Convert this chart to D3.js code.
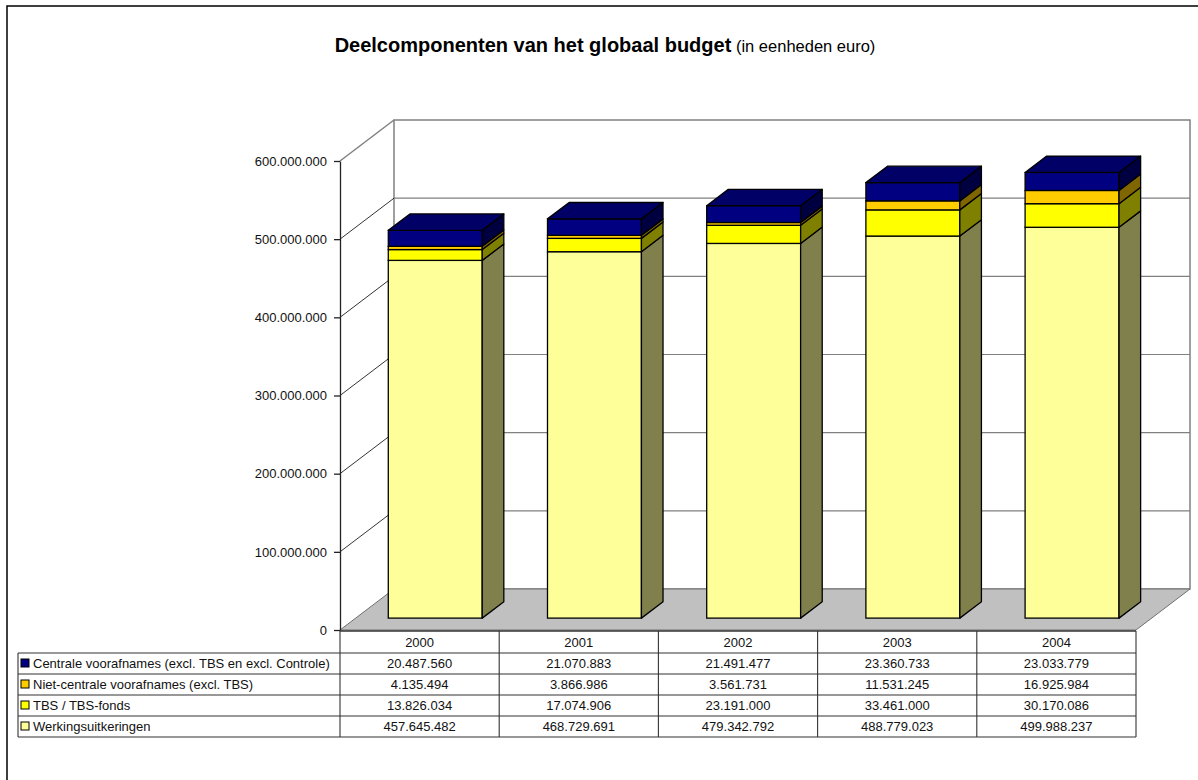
<!DOCTYPE html>
<html>
<head>
<meta charset="utf-8">
<script src="https://cdn.jsdelivr.net/npm/d3@7"></script>
<style>
  html, body { margin: 0; padding: 0; background: #fff; }
  svg { display: block; font-family: "Liberation Sans", Arial, sans-serif; }
</style>
</head>
<body>
<svg id="chart" width="1198" height="780"></svg>
<script>
// ---- data ----
const years = ["2000", "2001", "2002", "2003", "2004"];
const seriesNames = [
  "Werkingsuitkeringen",
  "TBS / TBS-fonds",
  "Niet-centrale voorafnames (excl. TBS)",
  "Centrale voorafnames (excl. TBS en excl. Controle)"
];
const werking = [457645482, 468729691, 479342792, 488779023, 499988237];
const tbs = [13826034, 17074906, 23191000, 33461000, 30170086];
const nietCentrale = [4135494, 3866986, 3561731, 11531245, 16925984];
const centrale = [20487560, 21070883, 21491477, 23360733, 23033779];
const yTicks = [0, 100000000, 200000000, 300000000, 400000000, 500000000, 600000000];

const frontColors = ["#FFFF99", "#FFFF00", "#FFCC00", "#000080"];
const sideColors = ["#80804D", "#808000", "#806600", "#000040"];
const topColors = ["#BFBF73", "#BFBF00", "#BF9900", "#000066"];

const seriesValues = [werking, tbs, nietCentrale, centrale];

const svg = d3.select("#chart");
const loc = d3.formatLocale({ decimal: ",", thousands: ".", grouping: [3], currency: ["", "€"] });
const fmt = loc.format(",d");

// outer border
svg.append("rect").attr("x", 7).attr("y", 6).attr("width", 1300).attr("height", 900)
  .attr("fill", "none").attr("stroke", "#000").attr("stroke-width", 1.5);

// title
const title = svg.append("text").attr("x", 605).attr("y", 52).attr("text-anchor", "middle").attr("fill", "#000");
title.append("tspan").attr("font-weight", "bold").attr("font-size", 20).text("Deelcomponenten van het globaal budget");
title.append("tspan").attr("font-size", 16.5).text(" (in eenheden euro)");

// geometry
const X0 = 340, X1 = 1136;
const DX = 54, DY = -41;
const y = d3.scaleLinear().domain([0, 600000000]).range([630, 161]);
const x = d3.scaleBand().domain(years).range([X0, X1]).paddingInner(0.41).paddingOuter(0.205);
const col = d3.scaleBand().domain(years).range([X0, X1]);
const f0 = 0.29, f1 = 0.69;

const g = svg.append("g");

// left wall
g.append("path").attr("d", d3.line()([[X0, y(600e6)], [X0 + DX, y(600e6) + DY], [X0 + DX, y(0) + DY], [X0, y(0)]]) + "Z")
  .attr("fill", "#fff").attr("stroke", "none");
// back wall
g.append("rect").attr("x", X0 + DX).attr("y", y(600e6) + DY).attr("width", X1 - X0).attr("height", y(0) - y(600e6))
  .attr("fill", "#fff").attr("stroke", "#808080").attr("stroke-width", 1.5);
// floor
g.append("path").attr("d", d3.line()([[X0, y(0)], [X0 + DX, y(0) + DY], [X1 + DX, y(0) + DY], [X1, y(0)]]) + "Z")
  .attr("fill", "#C0C0C0").attr("stroke", "#707070").attr("stroke-width", 1);
// top edge of left wall
g.append("line").attr("x1", X0).attr("y1", y(600e6)).attr("x2", X0 + DX).attr("y2", y(600e6) + DY)
  .attr("stroke", "#808080").attr("stroke-width", 1.5);

// gridlines
yTicks.filter(v => v > 0 && v < 600e6).forEach(v => {
  g.append("line").attr("x1", X0).attr("y1", y(v)).attr("x2", X0 + DX).attr("y2", y(v) + DY)
    .attr("stroke", "#000").attr("stroke-width", 0.8);
  g.append("line").attr("x1", X0 + DX).attr("y1", y(v) + DY).attr("x2", X1 + DX).attr("y2", y(v) + DY)
    .attr("stroke", "#808080").attr("stroke-width", 1.2);
});

// axis
const axis = d3.axisLeft(y).tickValues(yTicks).tickFormat(d => fmt(d)).tickSize(6).tickSizeOuter(0);
const ag = svg.append("g").attr("transform", `translate(${X0},0)`).call(axis);
ag.select(".domain").attr("stroke", "#222").attr("stroke-width", 1.3);
ag.selectAll(".tick line").attr("stroke", "#222").attr("stroke-width", 1.3);
ag.selectAll(".tick text").attr("font-size", 13).attr("fill", "#111").attr("x", -13)
  .attr("font-family", "'Liberation Sans', Arial, sans-serif");

// bars
const ddx0 = f0 * DX, ddy0 = f0 * DY;
const bdx = (f1 - f0) * DX, bdy = (f1 - f0) * DY;
years.forEach((yr, i) => {
  let cum = 0;
  const bx = x(yr) + ddx0, bw = x.bandwidth();
  seriesValues.forEach((vals, s) => {
    const v0 = cum, v1 = cum + vals[i];
    cum = v1;
    const yb = y(v0) + ddy0, yt = y(v1) + ddy0;
    // front
    g.append("rect").attr("x", bx).attr("y", yt).attr("width", bw).attr("height", yb - yt)
      .attr("fill", frontColors[s]).attr("stroke", "#000").attr("stroke-width", 1.3);
    // side
    g.append("path").attr("d", d3.line()([[bx + bw, yb], [bx + bw + bdx, yb + bdy], [bx + bw + bdx, yt + bdy], [bx + bw, yt]]) + "Z")
      .attr("fill", sideColors[s]).attr("stroke", "#000").attr("stroke-width", 1.3).attr("stroke-linejoin", "round");
    if (s === seriesValues.length - 1) {
      g.append("path").attr("d", d3.line()([[bx, yt], [bx + bw, yt], [bx + bw + bdx, yt + bdy], [bx + bdx, yt + bdy]]) + "Z")
        .attr("fill", topColors[s]).attr("stroke", "#000").attr("stroke-width", 1.3).attr("stroke-linejoin", "round");
    }
  });
});

// data table
const tY0 = 631, headH = 22, rowH = 21, legX = 18;
const tableRows = [3, 2, 1, 0];
const tg = svg.append("g");
const lineColor = "#333";
const nRows = tableRows.length;
const tBottom = tY0 + headH + nRows * rowH;
// header row
tg.append("line").attr("x1", X0).attr("x2", X1).attr("y1", tY0).attr("y2", tY0).attr("stroke", lineColor).attr("stroke-width", 1.3);
for (let r = 0; r <= nRows; r++) {
  const yy = tY0 + headH + r * rowH;
  tg.append("line").attr("x1", legX).attr("x2", X1).attr("y1", yy).attr("y2", yy).attr("stroke", lineColor).attr("stroke-width", 1.1);
}
tg.append("line").attr("x1", legX).attr("x2", legX).attr("y1", tY0 + headH).attr("y2", tBottom).attr("stroke", lineColor).attr("stroke-width", 1.1);
years.forEach(yr => {
  tg.append("line").attr("x1", col(yr)).attr("x2", col(yr)).attr("y1", tY0).attr("y2", tBottom).attr("stroke", lineColor).attr("stroke-width", 1.1);
});
tg.append("line").attr("x1", X1).attr("x2", X1).attr("y1", tY0).attr("y2", tBottom).attr("stroke", lineColor).attr("stroke-width", 1.1);

years.forEach(yr => {
  tg.append("text").attr("x", col(yr) + col.bandwidth() / 2).attr("y", tY0 + headH / 2 + 4.5)
    .attr("text-anchor", "middle").attr("font-size", 13).attr("fill", "#111").text(yr);
});
tableRows.forEach((s, r) => {
  const cy = tY0 + headH + r * rowH + rowH / 2;
  tg.append("rect").attr("x", legX + 3).attr("y", cy - 4.5).attr("width", 8).attr("height", 8)
    .attr("fill", frontColors[s]).attr("stroke", "#000").attr("stroke-width", 1);
  tg.append("text").attr("x", legX + 15).attr("y", cy + 4.5).attr("font-size", 13).attr("fill", "#111").text(seriesNames[s]);
  years.forEach((yr, i) => {
    tg.append("text").attr("x", col(yr) + col.bandwidth() / 2).attr("y", cy + 4.5)
      .attr("text-anchor", "middle").attr("font-size", 13).attr("fill", "#111").text(fmt(seriesValues[s][i]));
  });
});
</script>
</body>
</html>
